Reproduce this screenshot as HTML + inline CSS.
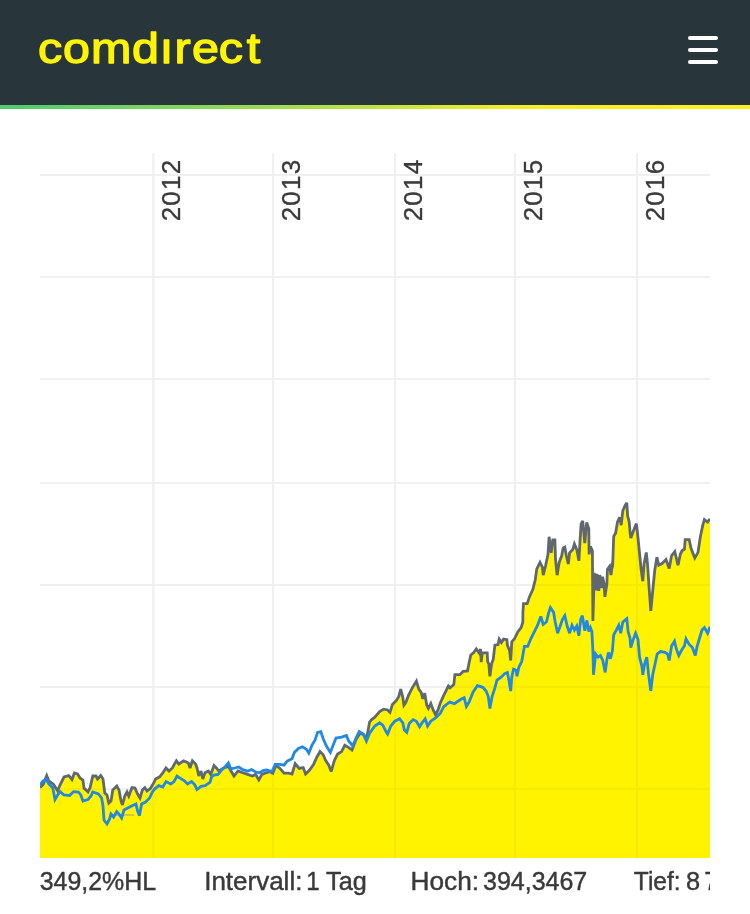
<!DOCTYPE html>
<html lang="de">
<head>
<meta charset="utf-8">
<meta name="viewport" content="width=750">
<title>comdirect</title>
<style>
  html,body{margin:0;padding:0;background:#fff;}
  body{width:750px;height:914px;overflow:hidden;position:relative;font-family:"Liberation Sans",sans-serif;}
  .hdr{position:absolute;left:0;top:0;width:750px;height:105px;background:#28353b;}
  .bar{position:absolute;left:0;top:105px;width:750px;height:4px;background:linear-gradient(90deg,#4ecb71 0%,#8fd858 30%,#bfe345 50%,#f3ec25 68%,#fdee1f 100%);}
  .logo{position:absolute;left:0;top:0;display:block;}
  .menu{position:absolute;left:688px;top:36px;width:30px;height:28px;}
  .menu i{position:absolute;left:0;width:30px;height:4px;border-radius:2px;background:#fff;}
  .menu i:nth-child(1){top:0}.menu i:nth-child(2){top:12px}.menu i:nth-child(3){top:24px}
  .chart{position:absolute;left:40px;top:150px;width:670px;height:764px;overflow:hidden;}
  .chart svg{display:block;}
</style>
</head>
<body>
<div class="hdr"></div>
<div class="bar"></div>
<svg class="logo" width="300" height="104" viewBox="0 0 300 104">
  <text transform="scale(1.14 1)" x="33.4 55.3 79.8 115.7 140.2 153.1 168.4 191.8 216.4" y="62.9" font-family="'Liberation Sans',sans-serif" font-size="42.5" fill="#fff500" stroke="#fff500" stroke-width="1.3" stroke-linejoin="round">comdırect</text>
</svg>
<div class="menu"><i></i><i></i><i></i></div>
<div class="chart">
<svg width="670" height="764" viewBox="40 150 670 764">
  <defs>
    <clipPath id="ac"><path d="M30 787.6 L40 787.6 L43.2 784.4 L46.7 775.6 L48.8 781 L53.6 784.4 L57.6 790.8 L60 785 L64 777 L68.8 775.6 L72 779.6 L74.4 773 L77.6 774 L80 778 L82.9 780 L84 788 L88 792 L90 788 L92.8 776 L96 776 L97.6 779 L100.8 775.6 L103 779 L104.8 793 L107 795 L108.8 803 L111 801 L112.8 790 L116.8 786 L119 790 L120.8 800 L122.4 805 L124.8 796 L127 792 L128.8 796 L132 787.6 L135 788 L137.6 794 L140 798 L142.4 790 L144.8 787.6 L147 791 L150.4 788.5 L154 782.4 L155.6 779 L159.6 776.8 L162.8 772.8 L166 768 L169 771 L172.4 768 L174 764.8 L176.4 760.8 L178.8 764 L183.6 760.8 L188.4 763 L190 768 L192.4 760.8 L195.6 764 L197 768 L198.8 776 L201 771 L202.8 779 L205 772.8 L208.4 771 L210.8 774.4 L214 765.6 L216.4 768 L218.8 771 L223.6 768 L228.4 766.4 L231.6 772 L234 776 L238 771 L242.8 772.8 L247.6 774.4 L252.4 776 L255.6 774.4 L258.8 780 L262 774.4 L264.8 773.2 L269.6 771.6 L272.8 773.2 L276 765.2 L280 768.4 L284 773.2 L288.8 773.2 L292 774 L295.2 763.6 L299.2 768.4 L303.2 767.6 L305.6 774 L309.6 770 L313.6 764.4 L316.8 757.2 L320 751.6 L323.2 754.8 L325.6 760.4 L328.8 765.2 L331.2 771.6 L334.4 760.4 L337.6 754 L341.6 751.6 L344.8 745.2 L348.8 747.6 L352 750 L356 739.6 L360 733.2 L364 734.8 L366.4 739.6 L369.6 722 L371.6 719.6 L374.8 717.2 L379.6 711.6 L383.6 709.2 L387.6 710 L390 712.4 L392.4 704.4 L396.4 700.4 L398.8 696.4 L400.7 689.2 L402.8 697.2 L403.9 705.2 L406 702 L408.4 695.6 L412.4 687.6 L416.4 681.2 L418.8 689.2 L421.2 692.4 L422.8 698.8 L424.7 693.2 L426.8 705.2 L428.4 708.4 L430.8 703.6 L433.2 710 L435.6 714.8 L438 710 L440.4 702.8 L443.6 695.6 L448.4 686 L450 687.8 L453.8 684.6 L454.9 674.7 L459.8 674.7 L463.1 671.4 L467.5 670.9 L469.1 662.7 L470.8 655 L473.5 652.8 L476.3 649 L479 652.8 L480.6 649 L481.2 662.1 L482.3 652.8 L487.2 652.8 L487.7 661.6 L488.8 663.8 L489.9 676.3 L491.6 663.8 L493.2 659.4 L494.9 645.2 L498.1 644.6 L499.2 639.1 L501.4 642.4 L503.6 639.1 L506.9 639.7 L507.4 645.2 L509.6 650.6 L510.7 660.5 L511.8 641.9 L514.6 638.6 L517.8 632 L521.1 627.7 L522.8 622.2 L522.9 612.4 L523.5 603.6 L527.2 603.6 L529.6 596.4 L532.8 589.6 L535.2 580 L536.8 568.8 L540 562.4 L542.4 567.2 L543.2 575.2 L545.6 565.6 L548 554.4 L549.1 536.8 L551.2 552.8 L552.8 540 L554.9 540 L555.5 559.2 L557.1 575.2 L559.2 562.4 L561.6 556 L563.2 548 L564.8 547.2 L566.4 556 L568.3 564 L569.6 552.8 L572.8 549.6 L574.4 544 L576.8 549.6 L578.9 560.8 L580 541.6 L581.1 524 L582.7 520.8 L584.8 543.2 L586.7 522.4 L588.8 528.8 L589.1 554.4 L590.4 546.4 L592.4 550.8 L592.9 621 L594.3 572.8 L595.9 590.3 L597 573.9 L598.7 590.9 L599.8 575 L601.4 588.1 L602.5 576.7 L604.1 583.8 L604.9 596.9 L606.9 583.8 L607.4 569.5 L609.6 566.3 L611 575 L612.4 564.1 L612.7 564.4 L613.7 536.4 L615.6 533.2 L617.5 522 L619.6 517.2 L621.2 525.2 L622.8 510.8 L624.9 506 L626.8 502.8 L627.6 515.6 L629.2 522 L630 531.6 L630.8 538 L633.2 531.6 L636.4 523.6 L637.7 534.8 L639.6 554 L641.2 570 L642.8 581.2 L644.1 563.6 L646.3 552.4 L647.6 565.2 L649.2 589.2 L650.8 610.8 L653.2 586 L654.8 570 L656.9 557.2 L658.8 565.2 L662 563.6 L666 559.6 L669.2 568.4 L671.6 555.6 L674.8 551.6 L678 565.2 L680.4 554 L682 550.8 L684.4 549.2 L685.2 539.6 L689.2 539.6 L690.8 547.6 L693.2 554 L694.8 558 L698 552.4 L700.4 536.4 L702.8 525.2 L704.4 519.6 L707.6 522 L710 518.8 H720 V858 H30 Z"/></clipPath>
    <filter id="bl" x="0" y="100" width="760" height="900" filterUnits="userSpaceOnUse"><feGaussianBlur stdDeviation="0.6"/></filter>
  </defs>
  <g filter="url(#bl)">
  <g stroke="#f0f0f0" stroke-width="2.2" fill="none">
    <path d="M30 175H720M30 277H720M30 379H720M30 483H720M30 585H720M30 687H720M30 789H720"/>
    <path d="M153.3 153V858M273.1 153V858M395 153V858M514.9 153V858M637.1 153V858"/>
  </g>
  <path fill="#fff304" d="M30 787.6 L40 787.6 L43.2 784.4 L46.7 775.6 L48.8 781 L53.6 784.4 L57.6 790.8 L60 785 L64 777 L68.8 775.6 L72 779.6 L74.4 773 L77.6 774 L80 778 L82.9 780 L84 788 L88 792 L90 788 L92.8 776 L96 776 L97.6 779 L100.8 775.6 L103 779 L104.8 793 L107 795 L108.8 803 L111 801 L112.8 790 L116.8 786 L119 790 L120.8 800 L122.4 805 L124.8 796 L127 792 L128.8 796 L132 787.6 L135 788 L137.6 794 L140 798 L142.4 790 L144.8 787.6 L147 791 L150.4 788.5 L154 782.4 L155.6 779 L159.6 776.8 L162.8 772.8 L166 768 L169 771 L172.4 768 L174 764.8 L176.4 760.8 L178.8 764 L183.6 760.8 L188.4 763 L190 768 L192.4 760.8 L195.6 764 L197 768 L198.8 776 L201 771 L202.8 779 L205 772.8 L208.4 771 L210.8 774.4 L214 765.6 L216.4 768 L218.8 771 L223.6 768 L228.4 766.4 L231.6 772 L234 776 L238 771 L242.8 772.8 L247.6 774.4 L252.4 776 L255.6 774.4 L258.8 780 L262 774.4 L264.8 773.2 L269.6 771.6 L272.8 773.2 L276 765.2 L280 768.4 L284 773.2 L288.8 773.2 L292 774 L295.2 763.6 L299.2 768.4 L303.2 767.6 L305.6 774 L309.6 770 L313.6 764.4 L316.8 757.2 L320 751.6 L323.2 754.8 L325.6 760.4 L328.8 765.2 L331.2 771.6 L334.4 760.4 L337.6 754 L341.6 751.6 L344.8 745.2 L348.8 747.6 L352 750 L356 739.6 L360 733.2 L364 734.8 L366.4 739.6 L369.6 722 L371.6 719.6 L374.8 717.2 L379.6 711.6 L383.6 709.2 L387.6 710 L390 712.4 L392.4 704.4 L396.4 700.4 L398.8 696.4 L400.7 689.2 L402.8 697.2 L403.9 705.2 L406 702 L408.4 695.6 L412.4 687.6 L416.4 681.2 L418.8 689.2 L421.2 692.4 L422.8 698.8 L424.7 693.2 L426.8 705.2 L428.4 708.4 L430.8 703.6 L433.2 710 L435.6 714.8 L438 710 L440.4 702.8 L443.6 695.6 L448.4 686 L450 687.8 L453.8 684.6 L454.9 674.7 L459.8 674.7 L463.1 671.4 L467.5 670.9 L469.1 662.7 L470.8 655 L473.5 652.8 L476.3 649 L479 652.8 L480.6 649 L481.2 662.1 L482.3 652.8 L487.2 652.8 L487.7 661.6 L488.8 663.8 L489.9 676.3 L491.6 663.8 L493.2 659.4 L494.9 645.2 L498.1 644.6 L499.2 639.1 L501.4 642.4 L503.6 639.1 L506.9 639.7 L507.4 645.2 L509.6 650.6 L510.7 660.5 L511.8 641.9 L514.6 638.6 L517.8 632 L521.1 627.7 L522.8 622.2 L522.9 612.4 L523.5 603.6 L527.2 603.6 L529.6 596.4 L532.8 589.6 L535.2 580 L536.8 568.8 L540 562.4 L542.4 567.2 L543.2 575.2 L545.6 565.6 L548 554.4 L549.1 536.8 L551.2 552.8 L552.8 540 L554.9 540 L555.5 559.2 L557.1 575.2 L559.2 562.4 L561.6 556 L563.2 548 L564.8 547.2 L566.4 556 L568.3 564 L569.6 552.8 L572.8 549.6 L574.4 544 L576.8 549.6 L578.9 560.8 L580 541.6 L581.1 524 L582.7 520.8 L584.8 543.2 L586.7 522.4 L588.8 528.8 L589.1 554.4 L590.4 546.4 L592.4 550.8 L592.9 621 L594.3 572.8 L595.9 590.3 L597 573.9 L598.7 590.9 L599.8 575 L601.4 588.1 L602.5 576.7 L604.1 583.8 L604.9 596.9 L606.9 583.8 L607.4 569.5 L609.6 566.3 L611 575 L612.4 564.1 L612.7 564.4 L613.7 536.4 L615.6 533.2 L617.5 522 L619.6 517.2 L621.2 525.2 L622.8 510.8 L624.9 506 L626.8 502.8 L627.6 515.6 L629.2 522 L630 531.6 L630.8 538 L633.2 531.6 L636.4 523.6 L637.7 534.8 L639.6 554 L641.2 570 L642.8 581.2 L644.1 563.6 L646.3 552.4 L647.6 565.2 L649.2 589.2 L650.8 610.8 L653.2 586 L654.8 570 L656.9 557.2 L658.8 565.2 L662 563.6 L666 559.6 L669.2 568.4 L671.6 555.6 L674.8 551.6 L678 565.2 L680.4 554 L682 550.8 L684.4 549.2 L685.2 539.6 L689.2 539.6 L690.8 547.6 L693.2 554 L694.8 558 L698 552.4 L700.4 536.4 L702.8 525.2 L704.4 519.6 L707.6 522 L710 518.8 H720 V858 H30 Z"/>
  <g stroke="#f7ea00" stroke-width="2.2" fill="none" clip-path="url(#ac)">
    <path d="M30 175H720M30 277H720M30 379H720M30 483H720M30 585H720M30 687H720M30 789H720"/>
    <path d="M153.3 153V858M273.1 153V858M395 153V858M514.9 153V858M637.1 153V858"/>
  </g>
  <path d="M112 815H134" stroke="#9a8f86" stroke-opacity="0.55" stroke-width="1.6" fill="none"/>
  <path fill="none" stroke="#5f686f" stroke-width="2.8" stroke-linejoin="miter" stroke-miterlimit="3" d="M40 787.6 L43.2 784.4 L46.7 775.6 L48.8 781 L53.6 784.4 L57.6 790.8 L60 785 L64 777 L68.8 775.6 L72 779.6 L74.4 773 L77.6 774 L80 778 L82.9 780 L84 788 L88 792 L90 788 L92.8 776 L96 776 L97.6 779 L100.8 775.6 L103 779 L104.8 793 L107 795 L108.8 803 L111 801 L112.8 790 L116.8 786 L119 790 L120.8 800 L122.4 805 L124.8 796 L127 792 L128.8 796 L132 787.6 L135 788 L137.6 794 L140 798 L142.4 790 L144.8 787.6 L147 791 L150.4 788.5 L154 782.4 L155.6 779 L159.6 776.8 L162.8 772.8 L166 768 L169 771 L172.4 768 L174 764.8 L176.4 760.8 L178.8 764 L183.6 760.8 L188.4 763 L190 768 L192.4 760.8 L195.6 764 L197 768 L198.8 776 L201 771 L202.8 779 L205 772.8 L208.4 771 L210.8 774.4 L214 765.6 L216.4 768 L218.8 771 L223.6 768 L228.4 766.4 L231.6 772 L234 776 L238 771 L242.8 772.8 L247.6 774.4 L252.4 776 L255.6 774.4 L258.8 780 L262 774.4 L264.8 773.2 L269.6 771.6 L272.8 773.2 L276 765.2 L280 768.4 L284 773.2 L288.8 773.2 L292 774 L295.2 763.6 L299.2 768.4 L303.2 767.6 L305.6 774 L309.6 770 L313.6 764.4 L316.8 757.2 L320 751.6 L323.2 754.8 L325.6 760.4 L328.8 765.2 L331.2 771.6 L334.4 760.4 L337.6 754 L341.6 751.6 L344.8 745.2 L348.8 747.6 L352 750 L356 739.6 L360 733.2 L364 734.8 L366.4 739.6 L369.6 722 L371.6 719.6 L374.8 717.2 L379.6 711.6 L383.6 709.2 L387.6 710 L390 712.4 L392.4 704.4 L396.4 700.4 L398.8 696.4 L400.7 689.2 L402.8 697.2 L403.9 705.2 L406 702 L408.4 695.6 L412.4 687.6 L416.4 681.2 L418.8 689.2 L421.2 692.4 L422.8 698.8 L424.7 693.2 L426.8 705.2 L428.4 708.4 L430.8 703.6 L433.2 710 L435.6 714.8 L438 710 L440.4 702.8 L443.6 695.6 L448.4 686 L450 687.8 L453.8 684.6 L454.9 674.7 L459.8 674.7 L463.1 671.4 L467.5 670.9 L469.1 662.7 L470.8 655 L473.5 652.8 L476.3 649 L479 652.8 L480.6 649 L481.2 662.1 L482.3 652.8 L487.2 652.8 L487.7 661.6 L488.8 663.8 L489.9 676.3 L491.6 663.8 L493.2 659.4 L494.9 645.2 L498.1 644.6 L499.2 639.1 L501.4 642.4 L503.6 639.1 L506.9 639.7 L507.4 645.2 L509.6 650.6 L510.7 660.5 L511.8 641.9 L514.6 638.6 L517.8 632 L521.1 627.7 L522.8 622.2 L522.9 612.4 L523.5 603.6 L527.2 603.6 L529.6 596.4 L532.8 589.6 L535.2 580 L536.8 568.8 L540 562.4 L542.4 567.2 L543.2 575.2 L545.6 565.6 L548 554.4 L549.1 536.8 L551.2 552.8 L552.8 540 L554.9 540 L555.5 559.2 L557.1 575.2 L559.2 562.4 L561.6 556 L563.2 548 L564.8 547.2 L566.4 556 L568.3 564 L569.6 552.8 L572.8 549.6 L574.4 544 L576.8 549.6 L578.9 560.8 L580 541.6 L581.1 524 L582.7 520.8 L584.8 543.2 L586.7 522.4 L588.8 528.8 L589.1 554.4 L590.4 546.4 L592.4 550.8 L592.9 621 L594.3 572.8 L595.9 590.3 L597 573.9 L598.7 590.9 L599.8 575 L601.4 588.1 L602.5 576.7 L604.1 583.8 L604.9 596.9 L606.9 583.8 L607.4 569.5 L609.6 566.3 L611 575 L612.4 564.1 L612.7 564.4 L613.7 536.4 L615.6 533.2 L617.5 522 L619.6 517.2 L621.2 525.2 L622.8 510.8 L624.9 506 L626.8 502.8 L627.6 515.6 L629.2 522 L630 531.6 L630.8 538 L633.2 531.6 L636.4 523.6 L637.7 534.8 L639.6 554 L641.2 570 L642.8 581.2 L644.1 563.6 L646.3 552.4 L647.6 565.2 L649.2 589.2 L650.8 610.8 L653.2 586 L654.8 570 L656.9 557.2 L658.8 565.2 L662 563.6 L666 559.6 L669.2 568.4 L671.6 555.6 L674.8 551.6 L678 565.2 L680.4 554 L682 550.8 L684.4 549.2 L685.2 539.6 L689.2 539.6 L690.8 547.6 L693.2 554 L694.8 558 L698 552.4 L700.4 536.4 L702.8 525.2 L704.4 519.6 L707.6 522 L710 518.8"/>
  <path fill="none" stroke="#2188e2" stroke-width="2.8" stroke-linejoin="miter" stroke-miterlimit="3" d="M40 785 L43 781 L46.4 779.6 L48.8 784 L52.8 788 L55 799.6 L57.6 795 L60 791.6 L64 795 L69.6 795.6 L73.6 791.6 L78.4 792 L80.8 795 L83 801 L88 799.6 L91 796 L92.8 792 L98.4 794 L101.6 798 L103 806 L104 820 L107 824 L109.6 819 L111 814 L113.6 817 L116.8 811.6 L119 814 L121.6 818 L124 810 L129.6 807 L136 804 L137.6 811 L139.5 815.6 L141.6 804 L145.6 802 L149.6 798 L152.4 792 L154.8 788.8 L158.8 785.6 L162.8 787 L166 781.6 L170.8 784 L174 781.6 L177 776 L180.4 778.4 L184.4 780.8 L187.6 784 L191.6 781.6 L194.8 784.8 L197 789.6 L201 786.4 L205 785.6 L210 782.4 L211.6 776.8 L214 775 L218 774.4 L222 769.6 L225 767 L228.4 763 L230.8 768.8 L234.8 768 L238.8 767 L242.8 769.6 L247.6 771 L251.6 769.6 L255.6 772 L259.6 772.8 L263.6 770.4 L266.4 770 L272 771.6 L275.2 764.4 L280 764.4 L284 765.2 L287.2 761.2 L292 758.8 L294.4 752.4 L298.4 748.4 L302.4 746.8 L306.4 749.2 L308.8 753.2 L312 745.2 L315.2 739.6 L317.6 732.4 L320.8 731.6 L323.2 738.8 L326.4 746 L330.4 752.4 L332.8 746 L336 738 L341.6 737.2 L346.4 735.6 L348.8 741.2 L352.8 746 L356 738 L359.2 731.6 L363.2 734 L366.4 741.2 L369.6 733.2 L374.8 726 L379.6 722.8 L382.8 725.2 L386 731.6 L387.6 734 L390.8 726 L394.8 721.2 L399.6 718.8 L402.8 722.8 L404.4 730 L406.8 732.4 L409.2 723.6 L413.2 719.6 L416.4 721.2 L419.6 726.8 L422 722.8 L425.2 718.8 L427.6 726 L430.8 721.2 L435.6 718 L440.4 713.2 L443.6 706.8 L447.6 703.6 L450 702.1 L454.4 703.7 L460.9 699.3 L464.2 697.7 L466.4 706.4 L469.1 702.1 L473 692.2 L477.4 685.6 L482.8 687.3 L486.1 691.1 L488.3 696.6 L489.9 708.6 L492.1 696.6 L494.9 687.8 L497 680.2 L501.4 676.9 L504.7 673.6 L507.4 672.5 L509.1 681.3 L510.7 691.1 L511.8 676.9 L513.5 669.2 L516.2 670.3 L517 676.3 L518.9 667 L521.7 661.6 L523.3 652.8 L524.4 646.3 L527.7 646.3 L530 640.8 L531.2 638 L534.4 631.6 L537.6 625.2 L540.8 616.4 L543.2 624.4 L546.4 622 L548.8 612.4 L550.4 607.6 L553.6 612.4 L555.2 622 L557.6 633.2 L560 626.8 L562.4 619.6 L564.8 615.6 L567.2 626 L569.6 633.2 L572 625.2 L574.4 630 L576.8 626 L578.9 635.6 L580.8 618.8 L582.4 615.6 L584.8 630.8 L586.9 620.4 L588.8 631.6 L590.4 627.6 L591.9 631.6 L592.9 650.8 L593.5 674.8 L595.6 654 L598 657.2 L600.4 655.6 L602.8 660.4 L605.2 672.4 L606.8 660.4 L608.4 652.4 L610.5 658.8 L612.4 650.8 L613.7 634.8 L616.4 630 L618.8 625.2 L620.7 633.2 L622.8 622 L626.8 618.8 L628.1 631.6 L630 638 L630.8 647.6 L633.2 639.6 L635.6 633.2 L638 639.6 L639.6 657.2 L642 666.8 L642.8 674.8 L644.7 663.6 L646.8 657.2 L648.4 673.2 L650.8 690.8 L652.7 674.8 L654.8 665.2 L657.2 654 L660.4 651.6 L665.2 652.4 L667.6 654 L669.2 660.4 L671.6 646 L674.5 641.2 L676.4 649.2 L678.8 655.6 L681.2 650.8 L684.4 646 L686 638.8 L689.2 644.4 L692.4 647.6 L695.3 655.6 L697.2 646 L699.6 638 L702 630 L704.4 627.6 L707.6 633.2 L710 626.8"/>
  <g font-family="'Liberation Sans',sans-serif" font-size="25.4" fill="#3a3a3a" stroke="#3a3a3a" stroke-width="0.45">
    <text x="39.75" y="889.7" textLength="116.4" lengthAdjust="spacingAndGlyphs">349,2%HL</text>
    <text y="889.7"><tspan x="204.2" textLength="98.2" lengthAdjust="spacingAndGlyphs">Intervall:</tspan> <tspan x="306.3" textLength="13.4" lengthAdjust="spacingAndGlyphs">1</tspan> <tspan x="326.1" textLength="40.7" lengthAdjust="spacingAndGlyphs">Tag</tspan></text>
    <text y="889.7"><tspan x="410.55" textLength="68.55" lengthAdjust="spacingAndGlyphs">Hoch:</tspan> <tspan x="483.05" textLength="104.2" lengthAdjust="spacingAndGlyphs">394,3467</tspan></text>
    <text y="889.7"><tspan x="633.86" textLength="46.7" lengthAdjust="spacingAndGlyphs">Tief:</tspan> <tspan x="686 704.2">87</tspan></text>
  </g>
  <g font-family="'Liberation Sans',sans-serif" font-size="26" fill="#3a3a3a" stroke="#3a3a3a" stroke-width="0.35">
    <text transform="translate(180.3 221.3) rotate(-90)" textLength="61.5" lengthAdjust="spacing">2012</text>
    <text transform="translate(300.1 221.3) rotate(-90)" textLength="61.5" lengthAdjust="spacing">2013</text>
    <text transform="translate(422 221.3) rotate(-90)" textLength="61.5" lengthAdjust="spacing">2014</text>
    <text transform="translate(541.9 221.3) rotate(-90)" textLength="61.5" lengthAdjust="spacing">2015</text>
    <text transform="translate(664.1 221.3) rotate(-90)" textLength="61.5" lengthAdjust="spacing">2016</text>
  </g>
  </g>
</svg>
</div>
</body>
</html>
